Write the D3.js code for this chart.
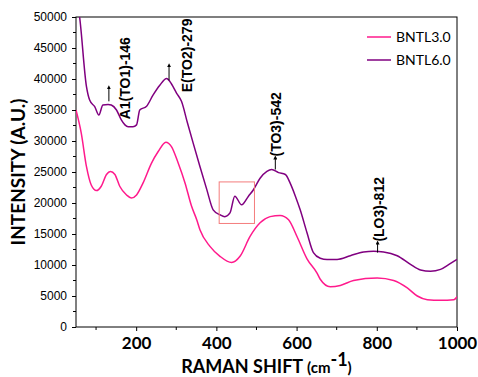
<!DOCTYPE html>
<html>
<head>
<meta charset="utf-8">
<script src="https://cdn.jsdelivr.net/npm/d3@7"></script>
<style>
  body { margin: 0; background: #fff; }
  svg { display: block; }
</style>
</head>
<body>
<script>
// BNTL3.0 spectrum
var shift3 = [50, 63, 76, 88, 101, 113, 126, 136, 147, 159, 176, 188, 201, 217, 238, 255, 274, 288, 305, 322, 338, 351, 359, 384, 409, 438, 459, 484, 509, 534, 559, 580, 601, 626, 651, 659, 684, 709, 742, 801, 842, 876, 901, 926, 959, 992, 1000];
var bntl3 = [35000, 31300, 25900, 22900, 22000, 22700, 24600, 25100, 24600, 22700, 21300, 20800, 21300, 23200, 26400, 28300, 29800, 29100, 26400, 23200, 19500, 17300, 15700, 13000, 11400, 10400, 11400, 14600, 16800, 17800, 18000, 17300, 14600, 11000, 8700, 7700, 6500, 6700, 7500, 7900, 7500, 6300, 5000, 4400, 4300, 4400, 4900];

// BNTL6.0 spectrum
var shift6 = [52, 59, 76, 84, 97, 107, 117, 130, 138, 151, 163, 172, 180, 192, 201, 209, 226, 242, 259, 276, 284, 301, 313, 328, 342, 359, 376, 392, 409, 421, 434, 446, 463, 480, 492, 509, 526, 538, 555, 572, 584, 597, 609, 626, 642, 659, 676, 701, 734, 767, 792, 817, 851, 884, 909, 934, 959, 980, 1000];
var bntl6 = [53000, 50000, 38800, 36600, 35500, 34200, 35800, 35900, 35800, 35000, 33400, 32600, 32300, 32300, 32600, 35000, 35600, 37400, 39000, 40100, 39600, 37700, 36400, 32900, 29700, 25900, 22200, 18900, 18100, 17800, 18400, 21100, 19700, 21100, 22100, 24000, 25100, 25400, 24900, 24600, 23200, 21100, 18900, 15200, 12000, 11100, 10900, 10900, 11500, 12100, 12200, 12100, 11500, 10100, 9200, 9000, 9300, 10100, 10900];

var seriesNames = ["BNTL3.0", "BNTL6.0"];
var seriesColors = ["#ff1a8c", "#800080"];

var xTicks = [200, 400, 600, 800, 1000];
var yTicks = [0, 5000, 10000, 15000, 20000, 25000, 30000, 35000, 40000, 45000, 50000];

// peak labels: text, arrow position (wavenumber, intensity at arrow base)
var peakLabels = ["A1(TO1)-146", "E(TO2)-279", "(TO3)-542", "(LO3)-812"];
var peakX = [132, 282, 547, 802];
var peakY = [36400, 39800, 25400, 12000];

// highlighted region
var boxX = [407, 495];
var boxY = [16700, 23400];

var W = 478, H = 377;
var margin = {top: 17, right: 21, bottom: 50, left: 76};
var width = W - margin.left - margin.right,
    height = H - margin.top - margin.bottom;

var svg = d3.select("body").append("svg")
    .attr("width", W)
    .attr("height", H);

var g = svg.append("g")
    .attr("transform", "translate(" + margin.left + "," + margin.top + ")");

var x = d3.scaleLinear().domain([50, 1000]).range([0, width]);
var y = d3.scaleLinear().domain([0, 50000]).range([height, 0]);

svg.append("defs").append("clipPath").attr("id", "clip")
  .append("rect").attr("width", width).attr("height", height);

svg.select("defs").append("marker")
    .attr("id", "arrow")
    .attr("viewBox", "0 0 10 10")
    .attr("refX", 5).attr("refY", 5)
    .attr("markerWidth", 4).attr("markerHeight", 4)
    .attr("orient", "auto")
  .append("path").attr("d", "M0,0L10,5L0,10z").attr("fill", "#000");

// axes
var yAxis = d3.axisLeft(y).tickValues(yTicks).tickSize(4).tickPadding(5)
  .tickFormat(d3.format("d"));
var gy = g.append("g").call(yAxis);
gy.selectAll("text").attr("font-family", "'Liberation Sans', Arial, sans-serif")
  .attr("font-size", 12).attr("fill", "#000");
// minor y ticks
g.append("g").selectAll("line")
  .data(d3.range(2500, 50000, 5000))
  .join("line")
  .attr("x1", -3).attr("x2", 0)
  .attr("y1", function(d){ return y(d); }).attr("y2", function(d){ return y(d); })
  .attr("stroke", "#000");

var xAxis = d3.axisBottom(x).tickValues(xTicks).tickSize(4).tickPadding(6)
  .tickFormat(d3.format("d"));
var gx = g.append("g").attr("transform", "translate(0," + height + ")").call(xAxis);
gx.selectAll("text").attr("font-family", "Lato, sans-serif")
  .attr("font-weight", "bold").attr("font-size", 17).attr("fill", "#000");
g.append("g").attr("transform", "translate(0," + height + ")")
  .selectAll("line")
  .data([100, 300, 500, 700, 900])
  .join("line")
  .attr("x1", function(d){ return x(d); }).attr("x2", function(d){ return x(d); })
  .attr("y1", 0).attr("y2", 3)
  .attr("stroke", "#000");

g.selectAll(".domain").remove();
g.append("rect")
  .attr("width", width).attr("height", height)
  .attr("fill", "none").attr("stroke", "#000").attr("stroke-width", 1);

// lines
var line = d3.line()
  .x(function(d){ return x(d[0]); })
  .y(function(d){ return y(d[1]); })
  .curve(d3.curveMonotoneX);

var series = [d3.zip(shift3, bntl3), d3.zip(shift6, bntl6)];
g.append("g").attr("clip-path", "url(#clip)")
  .selectAll("path")
  .data(series)
  .join("path")
  .attr("d", line)
  .attr("fill", "none")
  .attr("stroke", function(d, i){ return seriesColors[i]; })
  .attr("stroke-width", 1.5);

// highlight box
g.append("rect")
  .attr("x", x(boxX[0])).attr("y", y(boxY[1]))
  .attr("width", x(boxX[1]) - x(boxX[0]))
  .attr("height", y(boxY[0]) - y(boxY[1]))
  .attr("fill", "none").attr("stroke", "#f47c7c").attr("stroke-width", 1);

// peak annotations: arrow length, text baseline offset and text start offset
var arrowLen = [14, 15, 12, 10];
var textDx = [21, 23, 6, 6];
var textDy = [18, 12, -13, -11];

peakLabels.forEach(function(lbl, i) {
  var ax = x(peakX[i]), ay = y(peakY[i]);
  g.append("line")
    .attr("x1", ax).attr("y1", ay)
    .attr("x2", ax).attr("y2", ay - arrowLen[i])
    .attr("stroke", "#000").attr("stroke-width", 1)
    .attr("marker-end", "url(#arrow)");
  g.append("text")
    .attr("transform", "translate(" + (ax + textDx[i]) + "," + (ay + textDy[i]) + ") rotate(-90)")
    .attr("font-family", "'Liberation Sans', Arial, sans-serif")
    .attr("font-weight", "bold")
    .attr("font-size", 14)
    .attr("fill", "#000")
    .text(lbl);
});

// legend
var legend = g.append("g").attr("transform", "translate(" + (width - 90) + ",20)");
seriesNames.forEach(function(name, i) {
  legend.append("line")
    .attr("x1", 0).attr("x2", 24)
    .attr("y1", i * 23).attr("y2", i * 23)
    .attr("stroke", seriesColors[i]).attr("stroke-width", 1.5);
  legend.append("text")
    .attr("x", 29).attr("y", i * 23 + 5)
    .attr("font-family", "Lato, sans-serif")
    .attr("font-size", 14)
    .attr("fill", "#000")
    .text(name);
});

// axis titles
svg.append("text")
  .attr("x", margin.left + width / 2).attr("y", 373)
  .attr("text-anchor", "middle")
  .attr("font-family", "Lato, sans-serif")
  .attr("font-weight", "bold")
  .attr("fill", "#000")
  .attr("font-size", 18)
  .call(function(t) {
    t.append("tspan").text("RAMAN SHIFT ");
    t.append("tspan").attr("font-size", 15).text("(cm");
    t.append("tspan").attr("font-size", 18).attr("dy", -7).text("-1");
    t.append("tspan").attr("font-size", 15).attr("dy", 7).text(")");
  });

svg.append("text")
  .attr("transform", "translate(25," + (margin.top + height / 2) + ") rotate(-90)")
  .attr("text-anchor", "middle")
  .attr("font-family", "Lato, sans-serif")
  .attr("font-weight", "bold")
  .attr("font-size", 19)
  .attr("fill", "#000")
  .text("INTENSITY (A.U.)");
</script>
</body>
</html>
